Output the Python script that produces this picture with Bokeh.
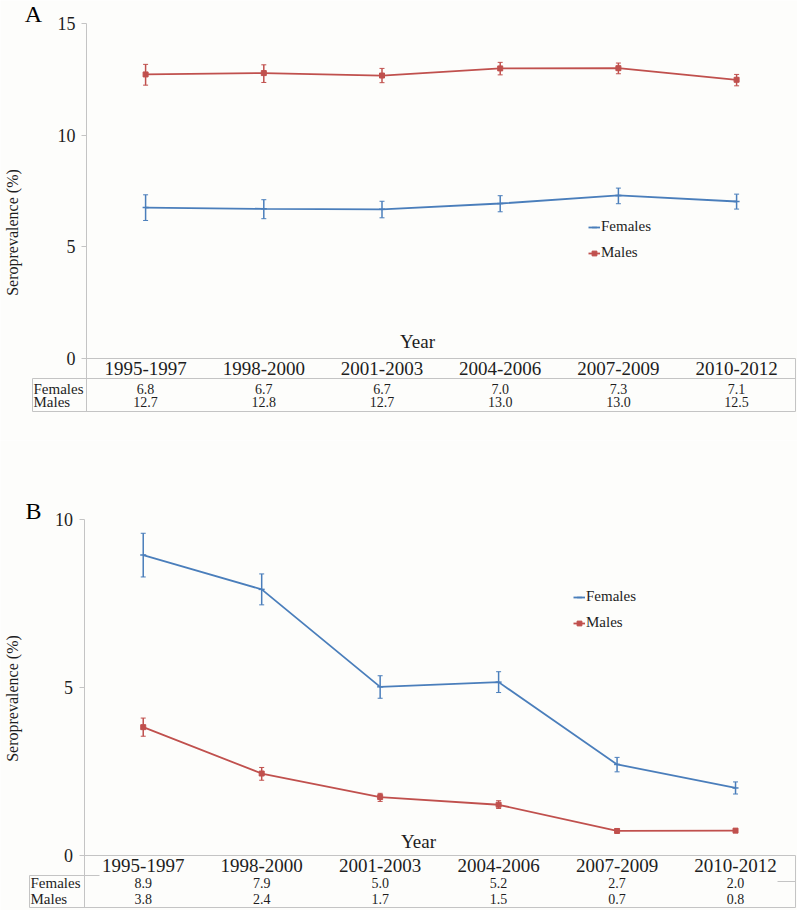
import math
from bokeh.plotting import figure
from bokeh.models import (ColumnDataSource, Range1d, FixedTicker, Legend, LegendItem,
                          Whisker, TeeHead)
from bokeh.layouts import column
from bokeh.embed import file_html
from bokeh.resources import INLINE
from bokeh.core.properties import value

# ---------------- data ----------------
categories = ["1995-1997", "1998-2000", "2001-2003", "2004-2006", "2007-2009", "2010-2012"]
row_labels = ["Females", "Males"]

# Panel A
a_females = [6.76, 6.70, 6.68, 6.94, 7.30, 7.03]
a_females_lo = [6.18, 6.26, 6.30, 6.57, 6.93, 6.69]
a_females_hi = [7.33, 7.11, 7.04, 7.29, 7.63, 7.36]
a_males = [12.72, 12.78, 12.67, 12.99, 13.00, 12.48]
a_males_lo = [12.24, 12.36, 12.35, 12.70, 12.75, 12.21]
a_males_hi = [13.17, 13.15, 12.99, 13.26, 13.23, 12.72]
a_table_females = ["6.8", "6.7", "6.7", "7.0", "7.3", "7.1"]
a_table_males = ["12.7", "12.8", "12.7", "13.0", "13.0", "12.5"]
a_yticks = [0, 5, 10, 15]

# Panel B
b_females = [8.94, 7.92, 5.02, 5.16, 2.71, 2.01]
b_females_lo = [8.29, 7.46, 4.68, 4.85, 2.49, 1.83]
b_females_hi = [9.59, 8.38, 5.35, 5.47, 2.92, 2.19]
b_males = [3.82, 2.44, 1.74, 1.51, 0.73, 0.74]
b_males_lo = [3.55, 2.24, 1.61, 1.40, 0.68, 0.69]
b_males_hi = [4.09, 2.62, 1.85, 1.63, 0.79, 0.79]
b_table_females = ["8.9", "7.9", "5.0", "5.2", "2.7", "2.0"]
b_table_males = ["3.8", "2.4", "1.7", "1.5", "0.7", "0.8"]
b_yticks = [0, 5, 10]

# ---------------- style ----------------
FONT = "Liberation Serif"
BLUE = "#4a7ebb"
RED = "#c0504d"
GRAY = "#c4c4c4"
TEXT = "#1e1e1e"
BG = "#fdfdfb"
W = 797


def make_panel(letter, ymax, yticks, fem, fem_lo, fem_hi, mal, mal_lo, mal_hi,
               tab_f, tab_m, g):
    n = len(categories)
    idx = list(range(n))
    top, H = g["top"], g["H"]

    def X(px):
        return -0.5 + (px - g["frame_left"]) / g["step"]

    def Y(py):
        return (g["y0"] - py) / g["unit"]

    p = figure(width=W, height=H, x_range=Range1d(X(0), X(W)),
               y_range=Range1d(Y(top + H), Y(top)),
               x_axis_location=None, toolbar_location=None, output_backend="svg",
               min_border=0)
    p.outline_line_color = None
    p.background_fill_color = BG
    p.border_fill_color = BG
    p.grid.visible = False

    ax = p.yaxis[0]
    ax.fixed_location = -0.5
    ax.ticker = FixedTicker(ticks=yticks)
    ax.bounds = (Y(g["bottom_y"]), ymax)
    ax.axis_line_color = GRAY
    ax.major_tick_line_color = GRAY
    ax.major_tick_out = 5
    ax.major_tick_in = 0
    ax.minor_tick_line_color = None
    ax.major_label_text_font = FONT
    ax.major_label_text_font_size = "18px"
    ax.major_label_text_color = TEXT
    ax.major_label_standoff = 6

    # table grid lines
    L, R = g["left_x"], g["right_x"]
    segs = [
        (g["frame_left"], g["y0"], R, g["y0"]),          # zero line / header top
        (L, g["bottom_y"], R, g["bottom_y"]),              # bottom border
        (R, g["y0"], R, g["bottom_y"]),                    # right border
        (L, g["header_line_y"], L, g["bottom_y"]),         # left border
    ] + g["header_segs"]
    p.segment(x0=[X(s[0]) for s in segs], y0=[Y(s[1]) for s in segs],
              x1=[X(s[2]) for s in segs], y1=[Y(s[3]) for s in segs],
              line_color=GRAY, line_width=1)

    # header categories and values
    p.text(x=idx, y=[Y(g["label_y"])] * n, text=categories, text_align="center",
           text_baseline="middle", text_font=value(FONT), text_font_size="19px",
           text_color=TEXT)
    p.text(x=idx, y=[Y(g["fem_y"])] * n, text=tab_f, text_align="center",
           text_baseline="middle", text_font=value(FONT), text_font_size="14px",
           text_color=TEXT)
    p.text(x=idx, y=[Y(g["mal_y"])] * n, text=tab_m, text_align="center",
           text_baseline="middle", text_font=value(FONT), text_font_size="14px",
           text_color=TEXT)
    p.text(x=[X(L + 1)] * 2, y=[Y(g["fem_y"]), Y(g["mal_y"])], text=row_labels,
           text_align="left", text_baseline="middle", text_font=value(FONT),
           text_font_size="15px", text_color=TEXT)

    # Year label, panel letter, y title
    p.text(x=[X(g["year"][0])], y=[Y(g["year"][1])], text=["Year"], text_align="center",
           text_baseline="middle", text_font=value(FONT), text_font_size="19px",
           text_color=TEXT)
    p.text(x=[X(g["letter"][0])], y=[Y(g["letter"][1])], text=[letter], text_align="center",
           text_baseline="middle", text_font=value(FONT), text_font_size="24px",
           text_color="#000000")
    p.text(x=[X(g["ytitle"][0])], y=[Y(g["ytitle"][1])], text=["Seroprevalence (%)"],
           angle=math.pi / 2, text_align="center", text_baseline="middle",
           text_font=value(FONT), text_font_size="16px", text_color=TEXT)

    # series
    src_f = ColumnDataSource(dict(x=idx, y=fem, lo=fem_lo, hi=fem_hi))
    src_m = ColumnDataSource(dict(x=idx, y=mal, lo=mal_lo, hi=mal_hi))
    items = []
    for src, col, mk, name in [(src_f, BLUE, "dash", "Females"), (src_m, RED, "square", "Males")]:
        p.add_layout(Whisker(source=src, base="x", upper="hi", lower="lo", dimension="height",
                             line_color=col, line_width=1.5,
                             upper_head=TeeHead(size=5, line_color=col, line_width=1),
                             lower_head=TeeHead(size=5, line_color=col, line_width=1)))
        rl = p.line("x", "y", source=src, line_color=col, line_width=1.8)
        if mk == "dash":
            rm = p.scatter("x", "y", source=src, marker="dash", size=6, line_color=col,
                           line_width=1.5)
        else:
            rm = p.scatter("x", "y", source=src, marker="square", size=5, line_color=col,
                           fill_color=col)
        items.append(LegendItem(label=name, renderers=[rl, rm]))

    leg = Legend(items=items, location=g["legend"], label_text_font=FONT,
                 label_text_font_size="15px", label_text_color=TEXT, glyph_width=12,
                 glyph_height=14, label_standoff=1, spacing=9, padding=0, margin=0,
                 border_line_color=None, background_fill_alpha=0, label_height=14)
    p.add_layout(leg)
    return p


# geometry in picture pixels (figure A occupies y 0..440, figure B y 440..910)
geomA = dict(top=0, H=440, frame_left=86, step=118.2, y0=358, unit=22.333,
             label_y=368, header_line_y=378, fem_y=388, mal_y=401, bottom_y=411,
             left_x=32, right_x=795, letter=(33, 13), ytitle=(12, 232), year=(417, 341),
             legend=(588, 179), header_segs=[(32, 378, 795, 378)])
geomB = dict(top=440, H=470, frame_left=83.5, step=118.46, y0=855, unit=33.6,
             label_y=865, header_line_y=875, fem_y=882, mal_y=898, bottom_y=907,
             left_x=29, right_x=795, letter=(33, 510), ytitle=(12, 698), year=(418, 841),
             legend=(573, 279), header_segs=[(29, 875, 99, 875), (777, 881, 795, 881)])

pA = make_panel("A", 15, a_yticks, a_females, a_females_lo, a_females_hi,
                a_males, a_males_lo, a_males_hi, a_table_females, a_table_males, geomA)
pB = make_panel("B", 10, b_yticks, b_females, b_females_lo, b_females_hi,
                b_males, b_males_lo, b_males_hi, b_table_females, b_table_males, geomB)

layout = column(pA, pB)
open("out.html", "w").write(file_html(layout, INLINE))
